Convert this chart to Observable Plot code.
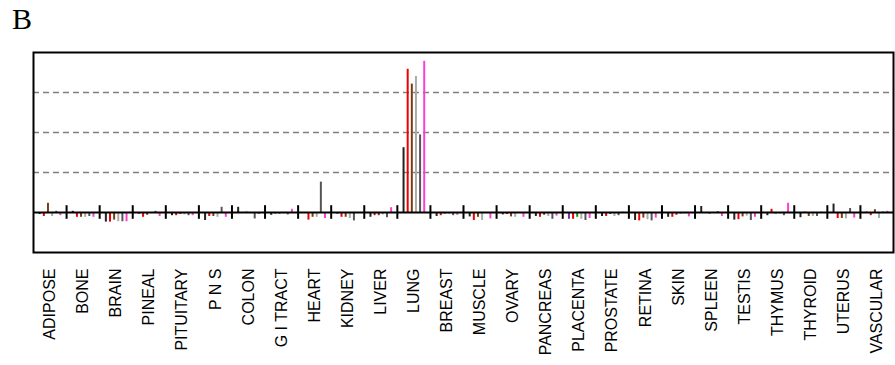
<!DOCTYPE html>
<html><head><meta charset="utf-8">
<script src="https://cdn.jsdelivr.net/npm/d3@7"></script>
<script src="https://cdn.jsdelivr.net/npm/@observablehq/plot@0.6"></script>
<style>
body{margin:0;background:#fff}
#wrap{position:relative;width:895px;height:365px}
#lab{position:absolute;left:12px;top:2px;font:30px "Liberation Serif",serif;color:#000}
</style>
</head><body><div id="wrap"><div id="lab">B</div><div id="chart"></div></div>
<script>
const tissues = ["ADIPOSE","BONE","BRAIN","PINEAL","PITUITARY","P N S","COLON","G I TRACT","HEART","KIDNEY","LIVER","LUNG","BREAST","MUSCLE","OVARY","PANCREAS","PLACENTA","PROSTATE","RETINA","SKIN","SPLEEN","TESTIS","THYMUS","THYROID","UTERUS","VASCULAR"];
const s1 = [-0.05, 0.03,-0.24,-0.04,-0.08,-0.20, 0.13,-0.07,-0.02,-0.04,-0.12,1.62,-0.10,-0.11,-0.06,-0.10,-0.17,-0.10,-0.20,-0.12, 0.15,-0.19,-0.08,-0.13, 0.21, 0.01];
const s2 = [-0.10,-0.12,-0.24,-0.12,-0.08,-0.10,-0.01,-0.04,-0.19,-0.12,-0.08,3.58,-0.08,-0.20,-0.05,-0.12,-0.17,-0.10,-0.21,-0.12,-0.02,-0.18, 0.08, 0.01,-0.15,-0.08];
const s3 = [ 0.23,-0.12,-0.19,-0.07,-0.05,-0.10, 0.01,-0.04,-0.12,-0.12,-0.08,3.21,-0.04,-0.12,-0.11,-0.07,-0.12,-0.05,-0.14,-0.07,-0.04,-0.11,-0.04,-0.10,-0.15, 0.07];
const s4 = [-0.10,-0.12,-0.23,-0.02,-0.06,-0.12,-0.02,-0.03,-0.12,-0.15,-0.06,3.40,-0.04,-0.20,-0.12,-0.10,-0.17,-0.10,-0.18,-0.05,-0.03,-0.09,-0.04,-0.10,-0.16,-0.15];
const s5 = [ 0.03,-0.10,-0.23, 0.03,-0.08, 0.13,-0.16,-0.06, 0.76,-0.21,-0.13,1.94,-0.08,-0.01,-0.02,-0.17,-0.20,-0.08,-0.21,-0.03, 0.02,-0.20,-0.08,-0.10, 0.10, 0.01];
const s6 = [-0.08,-0.12,-0.23,-0.10,-0.08,-0.12,-0.05, 0.08,-0.15, 0.00, 0.12,3.78,-0.07,-0.16,-0.12,-0.09,-0.15, 0.01,-0.14,-0.11,-0.10,-0.12, 0.23, 0.01,-0.14, 0.03];
const seriesColors = ["#222222","#ee0000","#7a3b12","#aaaaaa","#555555","#ff3fcf"];
const placentaColors = ["#7030a0","#ee0000","#00a000","#aaaaaa","#555555","#ff3fcf"];
const gridLevels = [1, 2, 3];

const series = [s1, s2, s3, s4, s5, s6];
const bars = [];
tissues.forEach((t, i) => series.forEach((s, k) => bars.push({
  t, x: i + (k + 1.5) / 8, v: s[i],
  color: (t === "PLACENTA" ? placentaColors : seriesColors)[k]
})));

const chart = Plot.plot({
  width: 895, height: 365,
  marginLeft: 33, marginRight: 2, marginTop: 52, marginBottom: 113,
  x: {domain: [0, tissues.length], axis: null},
  y: {domain: [-1, 4], axis: null},
  color: {type: "identity"},
  style: {background: "white"},
  marks: [
    Plot.ruleY(gridLevels, {stroke: "#7f7f7f", strokeWidth: 1.7, strokeDasharray: "6,4"}),
    Plot.ruleX(bars, {x: "x", y1: 0, y2: "v", stroke: "color", strokeWidth: 2}),
    Plot.ruleY([0], {stroke: "black", strokeWidth: 2}),
    Plot.ruleX(d3.range(1, tissues.length), {x: d => d, y1: -0.17, y2: 0.17, stroke: "black", strokeWidth: 2}),
    Plot.frame({stroke: "black", strokeWidth: 2}),
    Plot.text(tissues, {x: (d, i) => i + 0.5, text: d => d, frameAnchor: "bottom", dy: 16, rotate: -90, textAnchor: "end", lineAnchor: "middle", fontSize: 16, fontFamily: "Liberation Sans", fill: "black"})
  ]
});
document.getElementById("chart").appendChild(chart);
</script>
</body></html>
